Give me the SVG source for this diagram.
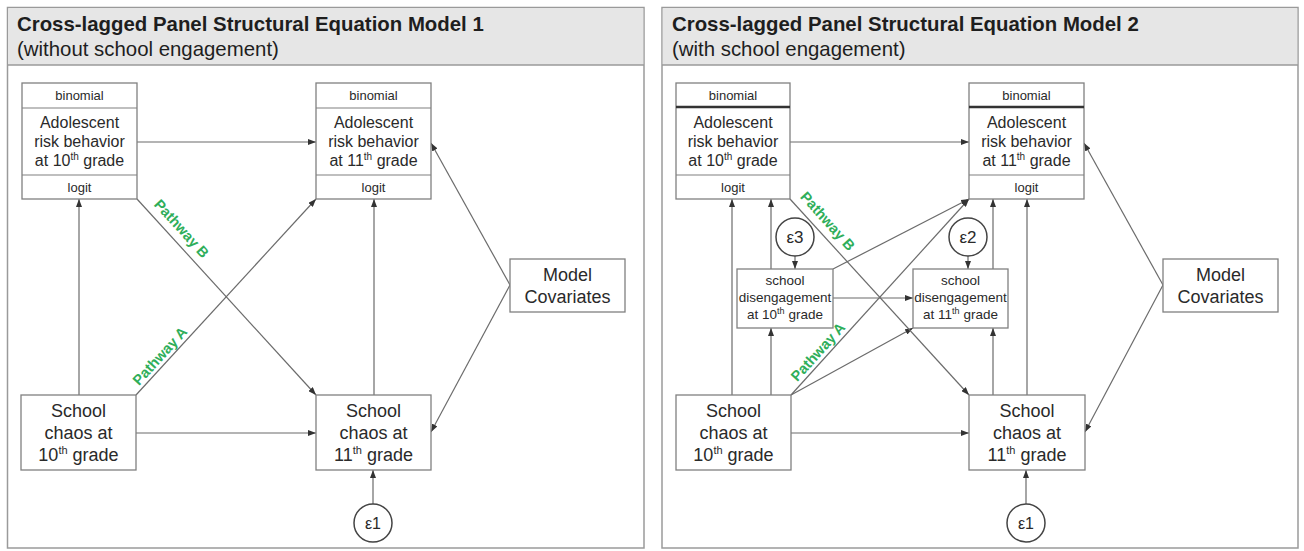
<svg xmlns="http://www.w3.org/2000/svg" width="1304" height="551" viewBox="0 0 1304 551">
<style>
.panel{fill:#fff;stroke:#9a9a9a;stroke-width:1.5}
.hdr{fill:#e6e6e6;stroke:none}
.hline{stroke:#9a9a9a;stroke-width:1.5}
.box{fill:#fff;stroke:#808080;stroke-width:1.3}
.circ{fill:#fff;stroke:#444;stroke-width:1.5}
.sep{stroke:#808080;stroke-width:1.2}
.sep2{stroke:#333;stroke-width:2.4}
.t{font-family:"Liberation Sans",Arial,sans-serif;fill:#2a2a2a;text-anchor:middle}
.s13{font-size:13px}
.s16{font-size:16px}
.s18{font-size:18px}
.sd{font-size:13.5px}
.title{font-family:"Liberation Sans",Arial,sans-serif;font-weight:bold;font-size:20.4px;fill:#1e1e1e}
.sub{font-family:"Liberation Sans",Arial,sans-serif;font-size:20.4px;fill:#1e1e1e}
.c{stroke:#6b6b6b;stroke-width:1.2;fill:none;marker-end:url(#ah)}
.pw{font-family:"Liberation Sans",Arial,sans-serif;font-weight:bold;font-size:14.5px;fill:#2fae5a;text-anchor:middle}
</style>
<defs>
<marker id="ah" markerUnits="userSpaceOnUse" markerWidth="8" markerHeight="6" refX="8" refY="3" orient="auto">
<path d="M0,0 L8,3 L0,6 z" fill="#333"/>
</marker>
</defs>

<g id="panel1">
<rect class="panel" x="7.5" y="7.5" width="636.5" height="540.5"/>
<rect class="hdr" x="8.25" y="8.25" width="635" height="56.75"/>
<line class="hline" x1="7.5" y1="65" x2="644" y2="65"/>
<text class="title" x="17" y="31">Cross-lagged Panel Structural Equation Model 1</text>
<text class="sub" x="17" y="56">(without school engagement)</text>
</g>

<g id="panel2">
<rect class="panel" x="662" y="7.5" width="636" height="540.5"/>
<rect class="hdr" x="662.75" y="8.25" width="634.5" height="56.75"/>
<line class="hline" x1="662" y1="65" x2="1298" y2="65"/>
<text class="title" x="672" y="31">Cross-lagged Panel Structural Equation Model 2</text>
<text class="sub" x="672" y="56">(with school engagement)</text>
</g>

<g id="connectors">
<line class="c" x1="137" y1="142" x2="316" y2="142"/>
<line class="c" x1="79" y1="395" x2="79" y2="199"/>
<line class="c" x1="374" y1="395" x2="374" y2="199"/>
<line class="c" x1="136" y1="395" x2="316" y2="199"/>
<line class="c" x1="137" y1="199" x2="316" y2="395"/>
<line class="c" x1="136" y1="433" x2="316" y2="433"/>
<line class="c" x1="510" y1="285" x2="431" y2="143"/>
<line class="c" x1="510" y1="285" x2="431" y2="432"/>
<line class="c" x1="373" y1="504" x2="373" y2="470"/>
<line class="c" x1="790" y1="142" x2="969" y2="142"/>
<line class="c" x1="732" y1="395" x2="732" y2="199"/>
<line class="c" x1="771" y1="395" x2="771" y2="328"/>
<line class="c" x1="771" y1="269" x2="771" y2="199"/>
<line class="c" x1="795" y1="256" x2="795" y2="269"/>
<line class="c" x1="968" y1="256" x2="968" y2="269"/>
<line class="c" x1="833" y1="298" x2="913" y2="298"/>
<line class="c" x1="833" y1="269" x2="969" y2="199"/>
<line class="c" x1="791" y1="395" x2="969" y2="199"/>
<line class="c" x1="791" y1="395" x2="913" y2="328"/>
<line class="c" x1="790" y1="199" x2="969" y2="395"/>
<line class="c" x1="993" y1="395" x2="993" y2="328"/>
<line class="c" x1="993" y1="269" x2="993" y2="199"/>
<line class="c" x1="1027" y1="395" x2="1027" y2="199"/>
<line class="c" x1="791" y1="433" x2="969" y2="433"/>
<line class="c" x1="1163" y1="285" x2="1084" y2="143"/>
<line class="c" x1="1163" y1="285" x2="1085" y2="432"/>
<line class="c" x1="1026" y1="504" x2="1026" y2="470"/>
<text class="pw" transform="translate(178,232) rotate(47.7)">Pathway B</text>
<text class="pw" transform="translate(163.5,359.3) rotate(-47.6)">Pathway A</text>
<text class="pw" transform="translate(824,224.5) rotate(48.2)">Pathway B</text>
<text class="pw" transform="translate(821.7,355.2) rotate(-48)">Pathway A</text>
</g>

<g id="m1-arb10">
<rect class="box" x="22" y="83" width="115" height="116"/>
<line class="sep" x1="22" y1="108" x2="137" y2="108"/>
<line class="sep" x1="22" y1="175" x2="137" y2="175"/>
<text class="t s13" x="79.5" y="100">binomial</text>
<text class="t s16" x="79.5" y="128">Adolescent</text>
<text class="t s16" x="79.5" y="147">risk behavior</text>
<text class="t s16" x="79.5" y="166">at 10<tspan font-size="10" dy="-6">th</tspan><tspan dy="6"> grade</tspan></text>
<text class="t s13" x="79.5" y="192">logit</text>
</g>
<g id="m1-arb11">
<rect class="box" x="316" y="83" width="115" height="116"/>
<line class="sep" x1="316" y1="108" x2="431" y2="108"/>
<line class="sep" x1="316" y1="175" x2="431" y2="175"/>
<text class="t s13" x="373.5" y="100">binomial</text>
<text class="t s16" x="373.5" y="128">Adolescent</text>
<text class="t s16" x="373.5" y="147">risk behavior</text>
<text class="t s16" x="373.5" y="166">at 11<tspan font-size="10" dy="-6">th</tspan><tspan dy="6"> grade</tspan></text>
<text class="t s13" x="373.5" y="192">logit</text>
</g>
<g id="m1-cov">
<rect class="box" x="510" y="259" width="115" height="53"/>
<text class="t s18" x="567.5" y="281">Model</text>
<text class="t s18" x="567.5" y="303">Covariates</text>
</g>
<g id="m1-sc10">
<rect class="box" x="21" y="395" width="115" height="75"/>
<text class="t s18" x="78.5" y="417">School</text>
<text class="t s18" x="78.5" y="439">chaos at</text>
<text class="t s18" x="78.5" y="461">10<tspan font-size="11" dy="-7">th</tspan><tspan dy="7"> grade</tspan></text>
</g>
<g id="m1-sc11">
<rect class="box" x="316" y="395" width="115" height="75"/>
<text class="t s18" x="373.5" y="417">School</text>
<text class="t s18" x="373.5" y="439">chaos at</text>
<text class="t s18" x="373.5" y="461">11<tspan font-size="11" dy="-7">th</tspan><tspan dy="7"> grade</tspan></text>
</g>
<g id="m1-e1">
<circle class="circ" cx="373" cy="523" r="19"/>
<text class="t" font-size="16" x="373" y="529">ε1</text>
</g>

<g id="m2-arb10">
<rect class="box" x="676" y="83" width="114" height="116"/>
<line class="sep2" x1="676" y1="107" x2="790" y2="107"/>
<line class="sep" x1="676" y1="175" x2="790" y2="175"/>
<text class="t s13" x="733" y="100">binomial</text>
<text class="t s16" x="733" y="128">Adolescent</text>
<text class="t s16" x="733" y="147">risk behavior</text>
<text class="t s16" x="733" y="166">at 10<tspan font-size="10" dy="-6">th</tspan><tspan dy="6"> grade</tspan></text>
<text class="t s13" x="733" y="192">logit</text>
</g>
<g id="m2-arb11">
<rect class="box" x="969" y="83" width="115" height="116"/>
<line class="sep2" x1="969" y1="107" x2="1084" y2="107"/>
<line class="sep" x1="969" y1="175" x2="1084" y2="175"/>
<text class="t s13" x="1026.5" y="100">binomial</text>
<text class="t s16" x="1026.5" y="128">Adolescent</text>
<text class="t s16" x="1026.5" y="147">risk behavior</text>
<text class="t s16" x="1026.5" y="166">at 11<tspan font-size="10" dy="-6">th</tspan><tspan dy="6"> grade</tspan></text>
<text class="t s13" x="1026.5" y="192">logit</text>
</g>
<g id="m2-e3">
<circle class="circ" cx="795" cy="237" r="19"/>
<text class="t" font-size="17" x="795" y="243">ε3</text>
</g>
<g id="m2-e2">
<circle class="circ" cx="968" cy="237" r="19"/>
<text class="t" font-size="17" x="968" y="243">ε2</text>
</g>
<g id="m2-sd10">
<rect class="box" x="737" y="269" width="96" height="59"/>
<text class="t sd" x="785" y="285">school</text>
<text class="t sd" x="785" y="302">disengagement</text>
<text class="t sd" x="785" y="319">at 10<tspan font-size="9" dy="-5">th</tspan><tspan dy="5"> grade</tspan></text>
</g>
<g id="m2-sd11">
<rect class="box" x="913" y="269" width="95" height="59"/>
<text class="t sd" x="960.5" y="285">school</text>
<text class="t sd" x="960.5" y="302">disengagement</text>
<text class="t sd" x="960.5" y="319">at 11<tspan font-size="9" dy="-5">th</tspan><tspan dy="5"> grade</tspan></text>
</g>
<g id="m2-cov">
<rect class="box" x="1163" y="259" width="115" height="53"/>
<text class="t s18" x="1220.5" y="281">Model</text>
<text class="t s18" x="1220.5" y="303">Covariates</text>
</g>
<g id="m2-sc10">
<rect class="box" x="676" y="395" width="115" height="75"/>
<text class="t s18" x="733.5" y="417">School</text>
<text class="t s18" x="733.5" y="439">chaos at</text>
<text class="t s18" x="733.5" y="461">10<tspan font-size="11" dy="-7">th</tspan><tspan dy="7"> grade</tspan></text>
</g>
<g id="m2-sc11">
<rect class="box" x="969" y="395" width="116" height="75"/>
<text class="t s18" x="1027" y="417">School</text>
<text class="t s18" x="1027" y="439">chaos at</text>
<text class="t s18" x="1027" y="461">11<tspan font-size="11" dy="-7">th</tspan><tspan dy="7"> grade</tspan></text>
</g>
<g id="m2-e1">
<circle class="circ" cx="1026" cy="523" r="19"/>
<text class="t" font-size="16" x="1026" y="529">ε1</text>
</g>
</svg>
